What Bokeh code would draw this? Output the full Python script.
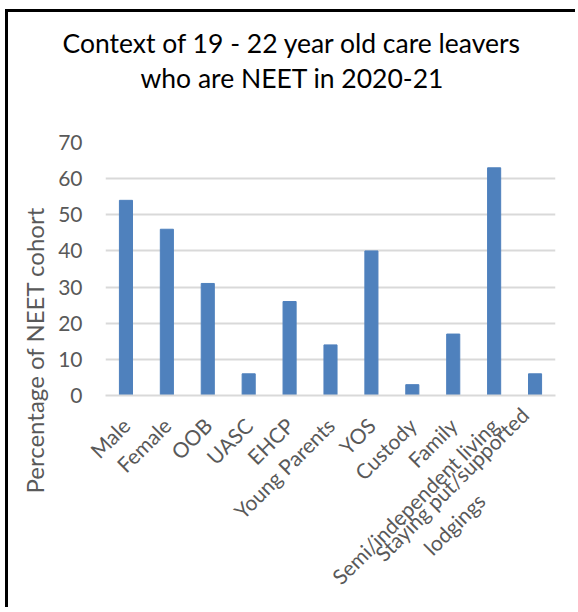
import math
from bokeh.plotting import figure
from bokeh.models import Range1d, Title, FixedTicker
from bokeh.embed import file_html
from bokeh.resources import INLINE

categories = ["Male", "Female", "OOB", "UASC", "EHCP", "Young Parents", "YOS",
              "Custody", "Family", "Semi/independent living",
              "Staying put/supported\nlodgings" + "\u00a0" * 17]
values = [54, 46, 31, 6, 26, 14, 40, 3, 17, 63, 6]
y_ticks = [0, 10, 20, 30, 40, 50, 60, 70]

FONT = "Lato"
GREY = "#595959"

p = figure(x_range=categories, y_range=Range1d(0, 70), width=570, height=598,
           output_backend="svg", toolbar_location=None,
           min_border_left=97, min_border_right=23, min_border_top=130,
           min_border_bottom=215)
p.styles = {"border-left": "3px solid black", "border-top": "3px solid black",
            "margin-left": "5px", "margin-top": "9px"}

p.vbar(x=categories, top=values, width=0.32, color="#4F81BD")

p.outline_line_color = None
p.xgrid.grid_line_color = None
p.ygrid.grid_line_color = "#D9D9D9"
p.ygrid.grid_line_width = 2
p.yaxis.ticker = FixedTicker(ticks=y_ticks)
p.yaxis.axis_line_color = None
p.yaxis.major_tick_line_color = None
p.yaxis.minor_tick_line_color = None
p.yaxis.major_label_text_font = FONT
p.yaxis.major_label_text_font_size = "21px"
p.yaxis.major_label_text_color = GREY
p.yaxis.major_label_standoff = 17

p.xaxis.axis_line_color = "#D9D9D9"
p.xaxis.axis_line_width = 2
p.xaxis.major_tick_line_color = None
p.xaxis.minor_tick_line_color = None
p.xaxis.major_tick_out = 0
p.xaxis.major_tick_in = 0
p.xaxis.major_label_orientation = math.pi / 4
p.xaxis.major_label_text_font = FONT
p.xaxis.major_label_text_font_size = "21px"
p.xaxis.major_label_text_color = GREY
p.xaxis.major_label_standoff = 26

p.add_layout(Title(text="Percentage of NEET cohort", align="left", offset=-98,
                   text_font=FONT, text_font_size="24px", text_color=GREY,
                   text_font_style="normal", standoff=14), "left")
# spacer between plot area and title lines
p.add_layout(Title(text=" ", text_font_size="1px", standoff=45), "above")
p.add_layout(Title(text="who are NEET in 2020-21", align="left", offset=35,
                   text_font=FONT, text_font_size="26.5px", text_color="black",
                   text_font_style="normal", standoff=2), "above")
p.add_layout(Title(text="Context of 19 - 22 year old care leavers", align="left",
                   offset=-43, text_font=FONT, text_font_size="26.5px",
                   text_color="black", text_font_style="normal", standoff=0),
             "above")

open("out.html", "w").write(file_html(p, INLINE))
